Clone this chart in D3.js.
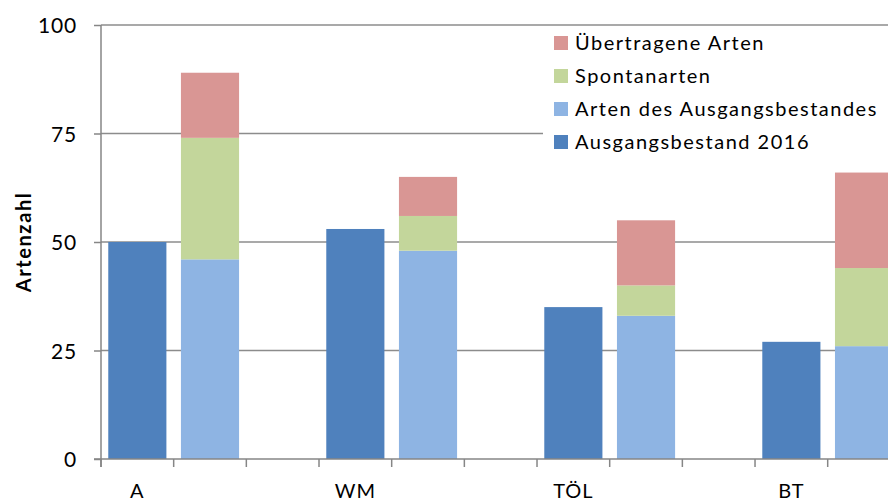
<!DOCTYPE html>
<html>
<head>
<meta charset="utf-8">
<script src="https://cdn.jsdelivr.net/npm/d3@7"></script>
<style>
  body { margin: 0; background: #fff; }
  text { font-family: Lato, "Open Sans", sans-serif; fill: #000; }
</style>
</head>
<body>
<div id="chart"></div>
<script>
// data
const categories = ["A", "WM", "TÖL", "BT"];
const ausgangsbestand2016 = [50, 53, 35, 27];
const artenAusgang = [46, 48, 33, 26];
const spontanarten = [28, 8, 7, 18];
const uebertragen = [15, 9, 15, 22];
const yTicks = [0, 25, 50, 75, 100];

const series = [
  {name: "Übertragene Arten", color: "#D99694"},
  {name: "Spontanarten", color: "#C3D69B"},
  {name: "Arten des Ausgangsbestandes", color: "#8EB4E3"},
  {name: "Ausgangsbestand 2016", color: "#4F81BD"}
];

const W = 888, H = 502;
const m = {left: 101, top: 25, bottom: 43};

// each category: slot for the 2016 bar, slot for the stacked bar, then an empty slot
const slots = [];
categories.forEach((c, i) => {
  slots.push(c + "_2016", c + "_neu");
  if (i < categories.length - 1) slots.push(c + "_gap");
});

const slotW = 72.67;
const x = d3.scaleBand().domain(slots)
  .range([m.left, m.left + slotW * slots.length])
  .paddingInner(0.2).paddingOuter(0.1);
const y = d3.scaleLinear().domain([0, 100]).range([H - m.bottom, m.top]);

const svg = d3.select("#chart").append("svg")
  .attr("width", W).attr("height", H);

// gridlines
svg.append("g").selectAll("line").data(yTicks.filter(d => d > 0)).join("line")
  .attr("x1", m.left).attr("x2", W)
  .attr("y1", d => y(d)).attr("y2", d => y(d))
  .attr("stroke", "#8c8c8c").attr("stroke-width", 1.5);

// bars: 2016
svg.append("g").selectAll("rect").data(categories).join("rect")
  .attr("x", d => x(d + "_2016")).attr("width", x.bandwidth())
  .attr("y", (d, i) => y(ausgangsbestand2016[i]))
  .attr("height", (d, i) => y(0) - y(ausgangsbestand2016[i]))
  .attr("fill", series[3].color);

// stacked bars
const table = categories.map((c, i) => ({
  cat: c,
  ausgang: artenAusgang[i],
  spontan: spontanarten[i],
  uebertr: uebertragen[i]
}));
const stack = d3.stack().keys(["ausgang", "spontan", "uebertr"])(table);
const stackColors = [series[2].color, series[1].color, series[0].color];

svg.append("g").selectAll("g").data(stack).join("g")
  .attr("fill", (d, i) => stackColors[i])
  .selectAll("rect").data(d => d).join("rect")
  .attr("x", d => x(d.data.cat + "_neu")).attr("width", x.bandwidth())
  .attr("y", d => y(d[1]))
  .attr("height", d => y(d[0]) - y(d[1]));

// axes
const axisColor = "#868686";
svg.append("line")
  .attr("x1", m.left).attr("x2", m.left)
  .attr("y1", y(100)).attr("y2", y(0) + 8)
  .attr("stroke", axisColor).attr("stroke-width", 1.5);
svg.append("line")
  .attr("x1", m.left - 7).attr("x2", W)
  .attr("y1", y(0)).attr("y2", y(0))
  .attr("stroke", axisColor).attr("stroke-width", 1.5);

const yAxis = svg.append("g").attr("transform", `translate(${m.left},0)`)
  .call(d3.axisLeft(y).tickValues(yTicks).tickSize(7).tickPadding(17));
yAxis.select(".domain").remove();
yAxis.selectAll("line").attr("stroke", axisColor).attr("stroke-width", 1.5);
yAxis.selectAll("text").style("font-size", "21px").style("letter-spacing", "0.8px")
  .attr("dy", "0.36em");

// x ticks at slot boundaries
const bounds = d3.range(slots.length + 1).map(k => m.left + k * slotW);
svg.append("g").selectAll("line").data(bounds).join("line")
  .attr("x1", d => d).attr("x2", d => d)
  .attr("y1", y(0)).attr("y2", y(0) + 8)
  .attr("stroke", axisColor).attr("stroke-width", 1.5);

// category labels under the 2016 bar
svg.append("g").selectAll("text").data(categories).join("text")
  .attr("x", d => x(d + "_2016") + x.bandwidth() / 2)
  .attr("y", 498)
  .attr("text-anchor", "middle")
  .style("font-size", "20px").style("letter-spacing", "1px")
  .text(d => d);

// y title
svg.append("text")
  .attr("transform", `translate(31,${y(50)}) rotate(-90)`)
  .attr("text-anchor", "middle")
  .style("font-size", "20px").style("font-weight", "bold").style("letter-spacing", "1.6px")
  .text("Artenzahl");

// legend
const lg = svg.append("g");
lg.append("rect").attr("x", 543).attr("y", 27).attr("width", W - 543).attr("height", 133)
  .attr("fill", "#fff");
const items = lg.selectAll("g").data(series).join("g")
  .attr("transform", (d, i) => `translate(554,${43 + i * 33})`);
items.append("rect").attr("x", 0).attr("y", -7).attr("width", 14).attr("height", 14)
  .attr("fill", d => d.color);
items.append("text").attr("x", 21).attr("y", 0).attr("dy", "0.35em")
  .style("font-size", "20px").style("letter-spacing", "1.5px")
  .text(d => d.name);
</script>
</body>
</html>
